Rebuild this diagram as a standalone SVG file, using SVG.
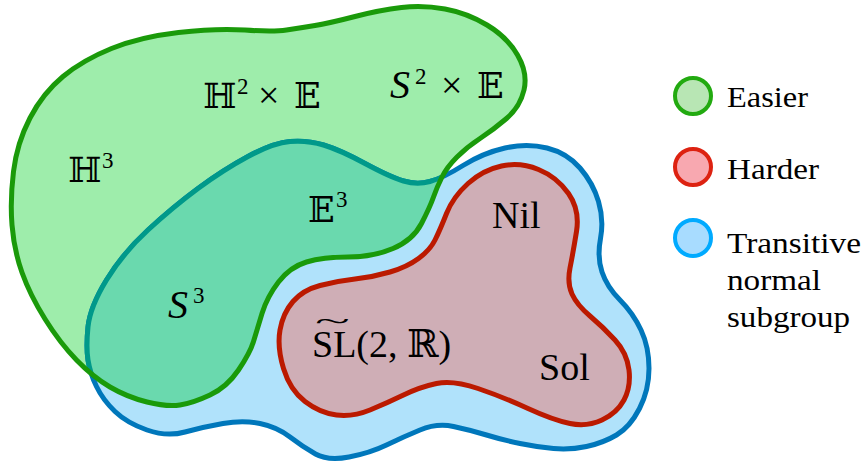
<svg xmlns="http://www.w3.org/2000/svg" width="864" height="468" viewBox="0 0 864 468">
<style>
.lbl{font-family:"Liberation Serif","DejaVu Serif",serif;font-size:38px;fill:#000}
.ds{font-size:35px}
.sup{font-size:23px}
.it{font-style:italic;font-size:40px}
.leg{font-family:"Liberation Serif",serif;font-size:29px;fill:#000}
.edge{stroke-width:5;stroke-linejoin:round}
</style>
<defs>
<path id="gp" d="M 286.5,30 Q 300,28 315,25.5 Q 330,23 355,16.5 Q 380,10 401.5,7.5 Q 423,5 445,9 Q 467,13 487,25 Q 507,37 517.5,55 Q 528,73 524,90 Q 520,107 506.5,118.5 Q 493,130 480,138.5 Q 467,147 457,157 Q 447,167 442,177 Q 437,187 433.5,197 Q 430,207 421.5,223.5 Q 413,240 393,248.5 Q 373,257 348,257 Q 323,257 306.5,262 Q 290,267 278.5,282 Q 267,297 262,313.5 Q 257,330 253.5,341.5 Q 250,353 238.5,370 Q 227,387 210,395 Q 193,403 180,405 Q 167,407 147,402 Q 127,397 110,387 Q 93,377 76.5,360 Q 60,343 45,319 Q 30,295 22,272.5 Q 14,250 12,225 Q 10,200 13.5,171.5 Q 17,143 30,118 Q 43,93 63,76.5 Q 83,60 111.5,48.5 Q 140,37 178.5,32.5 Q 217,28 245,30 Q 273,32 286.5,30 Z"/>
<path id="bp" d="M 430,181.5 Q 443,178 463,165.5 Q 483,153 505,148 Q 527,143 547,148 Q 567,153 580,168 Q 593,183 598.5,201.5 Q 604,220 600.5,238.5 Q 597,257 602,272 Q 607,287 620,300 Q 633,313 641,330 Q 649,347 649,368.5 Q 649,390 639.5,408.5 Q 630,427 616.5,435 Q 603,443 586.5,446.5 Q 570,450 553.5,448.5 Q 537,447 520,443.5 Q 503,440 486.5,435 Q 470,430 453.5,426.5 Q 437,423 420,430 Q 403,437 386.5,445 Q 370,453 349,457 Q 328,461 315.5,454 Q 303,447 290,437 Q 277,427 260,423.5 Q 243,420 223,423.5 Q 203,427 185,432 Q 167,437 147,430 Q 127,423 115,411.5 Q 103,400 96.5,386.5 Q 90,373 88,360 Q 86,347 88,327 Q 90,307 106.5,280 Q 123,253 148,230 Q 173,207 198,188.5 Q 223,170 248,156.5 Q 273,143 290,141.5 Q 307,140 323.5,145 Q 340,150 365,163.5 Q 390,177 403.5,181 Q 417,185 430,181.5 Z"/>
<clipPath id="gclip"><use href="#gp"/></clipPath>
</defs>
<g id="easier-fill"><use href="#gp" fill="#9EEDAB"/></g>
<g id="transitive">
<use href="#bp" fill="#B0E2FB" stroke="#0077BB" class="edge"/>
<g clip-path="url(#gclip)"><use href="#bp" fill="#6AD9AE" stroke="#00998A" class="edge"/></g>
</g>
<g id="easier"><use href="#gp" fill="none" stroke="#1A9A0A" class="edge"/></g>
<g id="harder">
<path d="M 435,240 Q 440,230 446.5,213.5 Q 453,197 468,183.5 Q 483,170 501.5,166 Q 520,162 538.5,169.5 Q 557,177 568.5,193.5 Q 580,210 576.5,231.5 Q 573,253 570,268 Q 567,283 572,294 Q 577,305 590,316 Q 603,327 615,340 Q 627,353 629,370 Q 631,387 624,400 Q 617,413 602,420 Q 587,427 570,423.5 Q 553,420 528,408.5 Q 503,397 478,388.5 Q 453,380 436.5,383.5 Q 420,387 403.5,395 Q 387,403 370,410 Q 353,417 336.5,415 Q 320,413 305,401.5 Q 290,390 283.5,368.5 Q 277,347 280,330 Q 283,313 293,301.5 Q 303,290 320,285.5 Q 337,281 355,279 Q 373,277 390,272 Q 407,267 418.5,258.5 Q 430,250 435,240 Z" fill="#CFAEB6" stroke="#BB1A00" class="edge"/>
</g>
<g id="labels">
<text class="lbl" x="68" y="182"><tspan class="ds">ℍ</tspan><tspan class="sup" x="102" y="168">3</tspan></text>
<text class="lbl" x="203" y="108"><tspan class="ds">ℍ</tspan><tspan class="sup" x="237" y="94">2</tspan><tspan x="258" y="108">×</tspan><tspan class="ds" x="294" y="108">𝔼</tspan></text>
<text class="lbl" x="390" y="98"><tspan class="it">S</tspan><tspan class="sup" x="415" y="84">2</tspan><tspan x="441" y="98">×</tspan><tspan class="ds" x="477" y="98">𝔼</tspan></text>
<text class="lbl" x="308" y="222"><tspan class="ds">𝔼</tspan><tspan class="sup" x="336" y="207">3</tspan></text>
<text class="lbl" x="168" y="318"><tspan class="it">S</tspan><tspan class="sup" x="193" y="303">3</tspan></text>
<text class="lbl" x="492" y="228">Nil</text>
<text class="lbl" x="539" y="380">Sol</text>
<text class="lbl" x="312" y="357">SL(2, ℝ)</text>
<text class="lbl" transform="translate(315,330) scale(2.3,1)" style="font-size:28px">~</text>
</g>
<g id="legend-easier"><circle cx="693" cy="96" r="18" fill="#B8E6B4" stroke="#22AA10" stroke-width="4"/><text class="leg" x="727" y="107" textLength="81" lengthAdjust="spacingAndGlyphs">Easier</text></g>
<g id="legend-harder"><circle cx="693" cy="167" r="18" fill="#F8A8B0" stroke="#DD2211" stroke-width="4"/><text class="leg" x="727" y="179" textLength="92" lengthAdjust="spacingAndGlyphs">Harder</text></g>
<g id="legend-transitive"><circle cx="693" cy="238" r="18" fill="#A8DCFF" stroke="#00AAFF" stroke-width="4"/><text class="leg" x="727" y="253" textLength="134" lengthAdjust="spacingAndGlyphs">Transitive</text><text class="leg" x="727" y="290" textLength="94" lengthAdjust="spacingAndGlyphs">normal</text><text class="leg" x="727" y="327" textLength="123" lengthAdjust="spacingAndGlyphs">subgroup</text></g>
</svg>
